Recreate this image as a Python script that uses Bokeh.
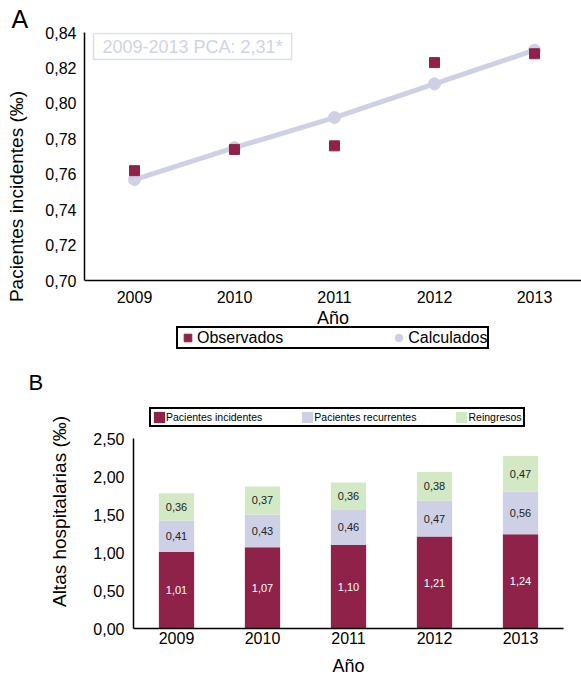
from bokeh.plotting import figure
from bokeh.models import (Range1d, FixedTicker, CustomJSTickFormatter, Legend,
                          LegendItem, Label, LabelSet, ColumnDataSource)
from bokeh.core.properties import value
from bokeh.embed import file_html
from bokeh.resources import INLINE

# ---- Panel A: incident patients, observed vs fitted trend ----
years = [2009, 2010, 2011, 2012, 2013]
observados = [0.762, 0.774, 0.776, 0.823, 0.828]
calculados = [0.757, 0.775, 0.792, 0.811, 0.830]
pca_text = "2009-2013 PCA: 2,31*"
ticks_a = [0.70, 0.72, 0.74, 0.76, 0.78, 0.80, 0.82, 0.84]

# ---- Panel B: hospital discharges by type ----
series_b = ["Pacientes incidentes", "Pacientes recurrentes", "Reingresos"]
incidentes = [1.01, 1.07, 1.10, 1.21, 1.24]
recurrentes = [0.41, 0.43, 0.46, 0.47, 0.56]
reingresos = [0.36, 0.37, 0.36, 0.38, 0.47]
ticks_b = [0.0, 0.5, 1.0, 1.5, 2.0, 2.5]

FONT = "Liberation Sans"
MAROON = "#8e2249"
LAVENDER = "#ced1e6"
GREEN = "#d3e8c4"

comma_fmt = CustomJSTickFormatter(code="return tick.toFixed(2).replace('.', ',');")


def style_axes(p, x_std, x_lab_std, y_std, y_lab_std):
    p.grid.visible = False
    p.outline_line_color = None
    p.background_fill_color = "white"
    p.border_fill_color = "white"
    for ax in (p.xaxis[0], p.yaxis[0]):
        ax.major_tick_out = 0
        ax.major_tick_in = 0
        ax.minor_tick_out = 0
        ax.minor_tick_in = 0
        ax.axis_line_color = "black"
        ax.axis_line_width = 1.5
        ax.major_label_text_font = FONT
        ax.major_label_text_font_size = "16px"
        ax.major_label_text_color = "black"
        ax.axis_label_text_font = FONT
        ax.axis_label_text_font_style = "normal"
        ax.axis_label_text_color = "black"
    p.xaxis[0].axis_label_text_font_size = "18px"
    p.yaxis[0].axis_label_text_font_size = "19px"
    p.xaxis[0].major_label_standoff = x_std
    p.xaxis[0].axis_label_standoff = x_lab_std
    p.yaxis[0].major_label_standoff = y_std
    p.yaxis[0].axis_label_standoff = y_lab_std


def panel_title(p, letter, size, offset):
    p.title.text = letter
    p.title.align = "left"
    p.title.offset = offset
    p.title.standoff = 0
    p.title.text_font = FONT
    p.title.text_font_size = size
    p.title.text_font_style = "normal"
    p.title.text_color = "black"


def boxed_legend(items, location, glyph, font_size, spacing, padding):
    return Legend(items=items, orientation="horizontal", location=location,
                  margin=0, padding=padding, spacing=spacing,
                  glyph_width=glyph, glyph_height=glyph, label_height=glyph,
                  label_standoff=0, label_text_font=FONT,
                  label_text_font_size=font_size, label_text_color="black",
                  border_line_color="black", border_line_width=2,
                  border_line_alpha=1,
                  background_fill_color="white", background_fill_alpha=1)


# ================= Panel A =================
# The plotting frame reaches the bottom of the figure so the legend under the
# x axis sits inside it; the x axis is pinned at 0,70.
A_AXIS_PX, A_BELOW_PX = 248, 80
a_lo = ticks_a[0] - (ticks_a[-1] - ticks_a[0]) * A_BELOW_PX / A_AXIS_PX
pa = figure(frame_width=497, frame_height=A_AXIS_PX + A_BELOW_PX,
            output_backend="svg", toolbar_location=None,
            x_range=Range1d(2008.5, 2013.47), y_range=Range1d(a_lo, ticks_a[-1]),
            min_border_left=84, min_border_right=0, min_border_top=32,
            min_border_bottom=0)
style_axes(pa, 10, 2, 8, 15)
panel_title(pa, "A", "25px", -73)
pa.xaxis.ticker = FixedTicker(ticks=years)
pa.xaxis.fixed_location = ticks_a[0]
pa.xaxis.bounds = (2008.5, 2013.5)
pa.yaxis.ticker = FixedTicker(ticks=ticks_a)
pa.yaxis.bounds = (ticks_a[0], ticks_a[-1])
pa.yaxis.formatter = comma_fmt
pa.xaxis.axis_label = "Año"
pa.yaxis.axis_label = "Pacientes incidentes (‰)"

pa.line(years, calculados, line_width=5, color=LAVENDER)
calc_pts = pa.scatter(years, calculados, marker="circle", size=12, color=LAVENDER)
obs_pts = pa.scatter(years, observados, marker="square", size=10, color=MAROON)

pa.add_layout(boxed_legend(
    [LegendItem(label="Observados", renderers=[obs_pts]),
     LegendItem(label="Calculados", renderers=[calc_pts])],
    location=(92, 11), glyph=19, font_size="16px", spacing=106, padding=0))

pa.add_layout(Label(x=9, y=A_AXIS_PX + A_BELOW_PX - 1, x_units="screen",
                    y_units="screen", text=pca_text,
                    text_align="left", text_baseline="top", text_font=FONT,
                    text_font_size="18px", text_color="#d0d3e8",
                    border_line_color="#dcdeee", border_line_width=1.5,
                    background_fill_color="white", padding=(9, 3)))

# ================= Panel B =================
inc_mid = [v / 2 for v in incidentes]
rec_mid = [a + b / 2 for a, b in zip(incidentes, recurrentes)]
rei_mid = [a + b + c / 2 for a, b, c in zip(incidentes, recurrentes, reingresos)]


def fmt(v):
    return f"{v:.2f}".replace(".", ",")


src = ColumnDataSource(dict(
    year=years, inc=incidentes, rec=recurrentes, rei=reingresos,
    inc_mid=inc_mid, rec_mid=rec_mid, rei_mid=rei_mid,
    inc_txt=[fmt(v) for v in incidentes], rec_txt=[fmt(v) for v in recurrentes],
    rei_txt=[fmt(v) for v in reingresos]))

# The frame extends above 2,50 so the legend sits inside it.
B_AXIS_PX, B_ABOVE_PX = 190, 44
b_hi = ticks_b[-1] * (B_AXIS_PX + B_ABOVE_PX) / B_AXIS_PX
pb = figure(frame_width=430, frame_height=B_AXIS_PX + B_ABOVE_PX,
            output_backend="svg", toolbar_location=None,
            x_range=Range1d(2008.5, 2013.5), y_range=Range1d(ticks_b[0], b_hi),
            min_border_left=133, min_border_right=18, min_border_top=34,
            min_border_bottom=48)
style_axes(pb, 3, 9, 9, 20)
panel_title(pb, "B", "22px", -105)
pb.xaxis.ticker = FixedTicker(ticks=years)
pb.yaxis.ticker = FixedTicker(ticks=ticks_b)
pb.yaxis.bounds = (ticks_b[0], ticks_b[-1])
pb.yaxis.formatter = comma_fmt
pb.xaxis.axis_label = "Año"
pb.yaxis.axis_label = "Altas hospitalarias (‰)"

bars = pb.vbar_stack(["inc", "rec", "rei"], x="year", width=0.41,
                     color=[MAROON, LAVENDER, GREEN], line_color=None, source=src)

for ycol, tcol, col in (("inc_mid", "inc_txt", "white"),
                        ("rec_mid", "rec_txt", "#222222"),
                        ("rei_mid", "rei_txt", "#222222")):
    pb.add_layout(LabelSet(x="year", y=ycol, text=tcol, source=src,
                           text_align="center", text_baseline="middle",
                           text_font=value(FONT), text_font_size=value("11px"),
                           text_color=value(col)))

pb.add_layout(boxed_legend(
    [LegendItem(label=name, renderers=[r]) for name, r in zip(series_b, bars)],
    location=(16, 201), glyph=14, font_size="10.5px", spacing=38, padding=1))

open("out.html", "w").write(file_html([pa, pb], INLINE))
